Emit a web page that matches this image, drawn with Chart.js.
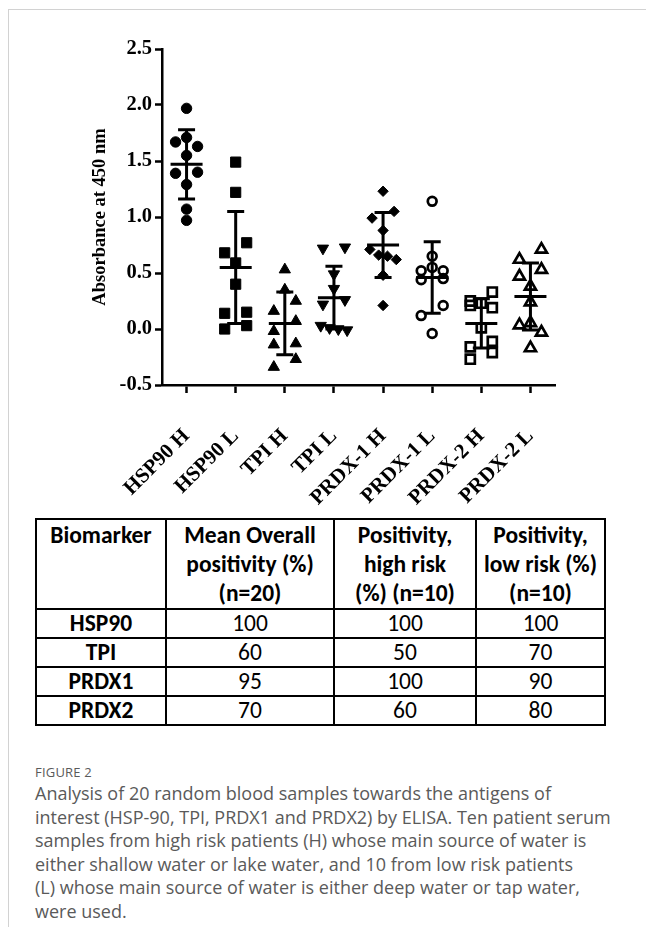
<!DOCTYPE html>
<html>
<head>
<meta charset="utf-8">
<script src="https://cdn.jsdelivr.net/npm/chart.js@4.4.1/dist/chart.umd.min.js"></script>
<style>
  html, body { margin: 0; padding: 0; background: #fff; }
  body { width: 646px; height: 927px; position: relative; overflow: hidden; }
  #frame { position: absolute; left: 8px; top: 9px; width: 640px; height: 930px;
           border-top: 1.5px solid #d2d2d2; border-left: 1.5px solid #d2d2d2; }
  #chartBox { position: absolute; left: 0; top: 0; width: 646px; height: 510px; }
  #tbl { position: absolute; left: 35px; top: 518px; border-collapse: collapse;
         font-family: Carlito, Lato, "Open Sans", sans-serif; color: #000; }
  #tbl td, #tbl th { border: 2px solid #000; text-align: center; padding: 0; }
  #tbl th { font-weight: bold; font-size: 23.5px; line-height: 29px; height: 84px; vertical-align: top; padding-top: 1px; }
  #tbl td { font-size: 23.5px; line-height: 27px; height: 27px; }
  #tbl td.b { font-weight: bold; }
  #cap { position: absolute; left: 35px; top: 762px; font-family: "Open Sans", sans-serif; color: #5a5a5a; }
  #cap .fig { font-size: 13px; line-height: 20px; letter-spacing: 0.2px; }
  #cap .ln { font-size: 18px; line-height: 23.5px; white-space: nowrap; }
</style>
</head>
<body>
<div id="frame"></div>
<div id="chartBox"><canvas id="c" width="646" height="510"></canvas></div>

<table id="tbl">
  <colgroup><col style="width:130px"><col style="width:168px"><col style="width:142px"><col style="width:129px"></colgroup>
  <tr><th>Biomarker</th><th>Mean Overall<br>positivity (%)<br>(n=20)</th><th>Positivity,<br>high risk<br>(%) (n=10)</th><th>Positivity,<br>low risk (%)<br>(n=10)</th></tr>
  <tr><td class="b">HSP90</td><td>100</td><td>100</td><td>100</td></tr>
  <tr><td class="b">TPI</td><td>60</td><td>50</td><td>70</td></tr>
  <tr><td class="b">PRDX1</td><td>95</td><td>100</td><td>90</td></tr>
  <tr><td class="b">PRDX2</td><td>70</td><td>60</td><td>80</td></tr>
</table>

<div id="cap">
  <div class="fig">FIGURE 2</div>
  <div class="ln">Analysis of 20 random blood samples towards the antigens of</div>
  <div class="ln">interest (HSP-90, TPI, PRDX1 and PRDX2) by ELISA. Ten patient serum</div>
  <div class="ln">samples from high risk patients (H) whose main source of water is</div>
  <div class="ln">either shallow water or lake water, and 10 from low risk patients</div>
  <div class="ln">(L) whose main source of water is either deep water or tap water,</div>
  <div class="ln">were used.</div>
</div>

<script>
// ---- data ----
const categories = ['HSP90 H', 'HSP90 L', 'TPI H', 'TPI L', 'PRDX-1 H', 'PRDX-1 L', 'PRDX-2 H', 'PRDX-2 L'];
const hsp90H = [1.97, 1.71, 1.67, 1.63, 1.55, 1.40, 1.39, 1.29, 1.07, 0.97];
const hsp90L = [1.49, 1.22, 0.77, 0.68, 0.59, 0.40, 0.15, 0.14, 0.03, 0.00];
const tpiH   = [0.53, 0.35, 0.25, 0.16, 0.07, -0.02, -0.13, -0.14, -0.27, -0.34];
const tpiL   = [0.73, 0.72, 0.49, 0.36, 0.26, 0.22, 0.03, 0.01, 0.00, -0.01];
const prdx1H = [1.23, 1.05, 0.99, 0.88, 0.71, 0.66, 0.65, 0.62, 0.48, 0.21];
const prdx1L = [1.14, 0.65, 0.55, 0.52, 0.52, 0.45, 0.44, 0.21, 0.12, -0.04];
const prdx2H = [0.33, 0.25, 0.23, 0.21, 0.19, 0.01, -0.11, -0.16, -0.21, -0.27];
const prdx2L = [0.71, 0.62, 0.53, 0.47, 0.38, 0.24, 0.055, 0.035, -0.03, -0.17];
const means  = [1.47, 0.55, 0.05, 0.28, 0.75, 0.46, 0.05, 0.29];
const sds    = [0.31, 0.50, 0.28, 0.28, 0.29, 0.32, 0.22, 0.30];
const yTicks = [-0.5, 0.0, 0.5, 1.0, 1.5, 2.0, 2.5];
const yTitle = 'Absorbance at 450 nm';

const groups = [hsp90H, hsp90L, tpiH, tpiL, prdx1H, prdx1L, prdx2H, prdx2L];

// marker styles per group
const styles = [
  { pointStyle: 'circle',   radius: 5.2, fill: true,  rot: 0 },
  { pointStyle: 'rect',     radius: 7.2, fill: true,  rot: 0 },
  { pointStyle: 'triangle', radius: 6.5, fill: true,  rot: 0 },
  { pointStyle: 'triangle', radius: 6.5, fill: true,  rot: 180 },
  { pointStyle: 'rectRot',  radius: 5.2, fill: true,  rot: 0 },
  { pointStyle: 'circle',   radius: 4.4, fill: false, rot: 0 },
  { pointStyle: 'rect',     radius: 6.4, fill: false, rot: 0 },
  { pointStyle: 'triangle', radius: 6.4, fill: false, rot: 0 }
];

const datasets = groups.map((vals, i) => ({
  label: categories[i],
  data: vals.map(v => ({ x: i, y: v })),
  pointStyle: styles[i].pointStyle,
  pointRadius: styles[i].radius,
  pointRotation: styles[i].rot,
  pointBackgroundColor: styles[i].fill ? '#000' : 'rgba(0,0,0,0)',
  pointBorderColor: '#000',
  pointBorderWidth: styles[i].fill ? 1 : 2.7,
  showLine: false
}));

const serif = 'Liberation Serif, "Times New Roman", serif';

// mean and SD whiskers, drawn through the chart scales
const errorBars = {
  id: 'errorBars',
  afterDatasetsDraw(chart) {
    const { ctx, scales: { x, y } } = chart;
    ctx.save();
    ctx.strokeStyle = '#000';
    ctx.lineWidth = 3;
    ctx.lineCap = 'butt';
    means.forEach((m, i) => {
      const px = x.getPixelForValue(i);
      const yM = y.getPixelForValue(m);
      const yU = y.getPixelForValue(m + sds[i]);
      const yL = y.getPixelForValue(m - sds[i]);
      ctx.beginPath();
      ctx.moveTo(px, yU); ctx.lineTo(px, yL);
      ctx.moveTo(px - 8.5, yU); ctx.lineTo(px + 8.5, yU);
      ctx.moveTo(px - 8.5, yL); ctx.lineTo(px + 8.5, yL);
      ctx.moveTo(px - 16, yM); ctx.lineTo(px + 16, yM);
      ctx.stroke();
    });
    ctx.restore();
  }
};

const chart = new Chart(document.getElementById('c'), {
  type: 'scatter',
  data: { datasets },
  plugins: [errorBars],
  options: {
    responsive: false,
    animation: false,
    events: [],
    layout: { padding: { left: 80, top: 49, right: 91, bottom: 0 } },
    plugins: { legend: { display: false }, tooltip: { enabled: false } },
    scales: {
      x: {
        type: 'linear',
        min: -0.5, max: 7.5,
        afterBuildTicks: (s) => { s.ticks = categories.map((_, i) => ({ value: i })); },
        afterFit: (s) => { s.height = 125; },
        ticks: {
          autoSkip: false, minRotation: 45, maxRotation: 45, padding: 31,
          color: '#000',
          font: { family: serif, size: 21, weight: 'bold' },
          callback: (v) => categories[v]
        },
        grid: { display: true, drawOnChartArea: false, drawTicks: true, tickLength: 8, tickWidth: 2.5, tickColor: '#000' },
        border: { display: true, color: '#000', width: 2.5 }
      },
      y: {
        type: 'linear',
        min: -0.5, max: 2.5,
        afterBuildTicks: (s) => { s.ticks = yTicks.map(v => ({ value: v })); },
        afterFit: (s) => { s.width = 82; },
        ticks: {
          padding: 3, color: '#000',
          font: { family: serif, size: 20.5, weight: 'bold' },
          callback: (v) => v.toFixed(1)
        },
        title: {
          display: true, text: yTitle, color: '#000',
          font: { family: serif, size: 18.5, weight: 'bold' },
          padding: { top: 9, bottom: 0 }
        },
        grid: { display: true, drawOnChartArea: false, drawTicks: true, tickLength: 7, tickWidth: 2.5, tickColor: '#000' },
        border: { display: true, color: '#000', width: 2.5 }
      }
    }
  }
});

// Prism-like scatter spreading: points closer than one marker row share a row and are spread sideways
(function spread() {
  const xs = chart.scales.x, ys = chart.scales.y;
  const rowH = 10.5, step = 11;
  groups.forEach((vals, gi) => {
    const order = vals.map((v, k) => k).sort((a, b) => vals[b] - vals[a]);
    const rows = [];
    order.forEach(k => {
      const py = ys.getPixelForValue(vals[k]);
      const row = rows[rows.length - 1];
      if (row && py - row.top < rowH) row.items.push(k);
      else rows.push({ top: py, items: [k] });
    });
    const cx = xs.getPixelForValue(gi);
    rows.forEach(row => {
      const n = row.items.length;
      let offs;
      if (n === 1) offs = [0];
      else if (n === 2) offs = [step, -step];
      else if (n === 3) offs = [0, -step, step];
      else offs = row.items.map((_, j) => (j - (n - 1) / 2) * step * 0.8);
      row.items.forEach((k, j) => {
        chart.data.datasets[gi].data[k].x = xs.getValueForPixel(cx + offs[j]);
      });
    });
  });
  chart.update('none');
})();
</script>
</body>
</html>
